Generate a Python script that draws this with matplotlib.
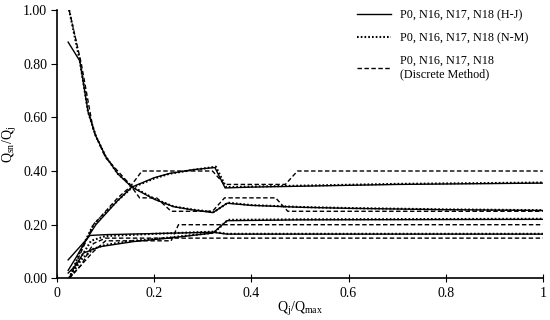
import numpy as np
import matplotlib.pyplot as plt

plt.rcParams['font.family'] = ['Liberation Serif', 'DejaVu Serif']
plt.rcParams['mathtext.fontset'] = 'custom'
plt.rcParams['mathtext.rm'] = 'Liberation Serif'

# ---- data (x = Qj/Qmax, y = Qsn/Qj) ----
# H-J (solid)
hj_p0_x = [0.023, 0.047, 0.064, 0.08, 0.1, 0.125, 0.154, 0.2, 0.24, 0.28, 0.321, 0.35, 0.4, 0.5, 0.6, 0.8, 1.0]
hj_p0_y = [0.88, 0.81, 0.62, 0.53, 0.455, 0.39, 0.34, 0.295, 0.267, 0.255, 0.245, 0.28, 0.272, 0.265, 0.261, 0.256, 0.253]
hj_n16_x = [0.023, 0.04, 0.064, 0.08, 0.1, 0.125, 0.154, 0.2, 0.232, 0.28, 0.325, 0.346, 0.4, 0.52, 0.7, 1.0]
hj_n16_y = [0.03, 0.08, 0.155, 0.2, 0.24, 0.29, 0.34, 0.375, 0.391, 0.405, 0.413, 0.337, 0.34, 0.344, 0.35, 0.355]
hj_n17_x = [0.023, 0.068, 0.1, 0.2, 0.32, 0.35, 1.0]
hj_n17_y = [0.069, 0.16, 0.163, 0.167, 0.172, 0.165, 0.165]
hj_n18_x = [0.023, 0.04, 0.054, 0.088, 0.157, 0.23, 0.321, 0.35, 0.5, 1.0]
hj_n18_y = [0.02, 0.05, 0.094, 0.118, 0.137, 0.15, 0.169, 0.215, 0.218, 0.22]

# N-M (dotted)
nm_p0_x = [0.025, 0.047, 0.064, 0.08, 0.1, 0.125, 0.154, 0.2, 0.24, 0.28, 0.323, 0.352, 0.4, 0.5, 0.6, 0.8, 1.0]
nm_p0_y = [1.0, 0.81, 0.62, 0.53, 0.455, 0.39, 0.343, 0.297, 0.268, 0.256, 0.247, 0.282, 0.273, 0.266, 0.262, 0.257, 0.254]
nm_n16_x = [0.025, 0.05, 0.075, 0.1, 0.125, 0.154, 0.2, 0.232, 0.28, 0.327, 0.348, 0.4, 0.52, 0.7, 1.0]
nm_n16_y = [0.0, 0.11, 0.2, 0.245, 0.29, 0.338, 0.372, 0.39, 0.404, 0.416, 0.34, 0.342, 0.346, 0.352, 0.357]
nm_n17_x = [0.025, 0.05, 0.07, 0.1, 0.2, 0.32, 0.35, 1.0]
nm_n17_y = [0.0, 0.08, 0.14, 0.158, 0.166, 0.174, 0.166, 0.166]
nm_n18_x = [0.025, 0.05, 0.075, 0.1, 0.157, 0.23, 0.323, 0.352, 0.5, 1.0]
nm_n18_y = [0.0, 0.07, 0.11, 0.125, 0.14, 0.152, 0.17, 0.218, 0.22, 0.222]

# Discrete method (dashed)
dm_p0_x = [0.025, 0.05, 0.075, 0.1, 0.125, 0.15, 0.17, 0.205, 0.235, 0.32, 0.345, 0.45, 0.475, 1.0]
dm_p0_y = [1.0, 0.80, 0.55, 0.45, 0.40, 0.35, 0.30, 0.30, 0.25, 0.25, 0.30, 0.30, 0.25, 0.25]
dm_n16_x = [0.025, 0.05, 0.075, 0.1, 0.125, 0.15, 0.175, 0.32, 0.345, 0.47, 0.495, 1.0]
dm_n16_y = [0.0, 0.10, 0.20, 0.25, 0.30, 0.34, 0.40, 0.40, 0.35, 0.35, 0.40, 0.40]
dm_n17_x = [0.025, 0.05, 0.075, 0.1, 1.0]
dm_n17_y = [0.0, 0.05, 0.13, 0.15, 0.15]
dm_n18_x = [0.025, 0.05, 0.075, 0.1, 0.235, 0.25, 0.33, 0.345, 1.0]
dm_n18_y = [0.0, 0.05, 0.10, 0.14, 0.14, 0.20, 0.20, 0.20, 0.20]

labels = ['P0, N16, N17, N18 (H-J)', 'P0, N16, N17, N18 (N-M)', 'P0, N16, N17, N18\n(Discrete Method)']
x_ticks = [0, 0.2, 0.4, 0.6, 0.8, 1]
x_ticklabels = ['0', '0.2', '0.4', '0.6', '0.8', '1']
y_ticks = [0, 0.2, 0.4, 0.6, 0.8, 1.0]
y_ticklabels = ['0.00', '0.20', '0.40', '0.60', '0.80', '1.00']

# ---- figure ----
fig = plt.figure(figsize=(5.5, 3.2), dpi=100)
ax = fig.add_axes([0.1036, 0.13, 0.8834, 0.839])

hj = [(hj_p0_x, hj_p0_y), (hj_n16_x, hj_n16_y), (hj_n17_x, hj_n17_y), (hj_n18_x, hj_n18_y)]
nm = [(nm_p0_x, nm_p0_y), (nm_n16_x, nm_n16_y), (nm_n17_x, nm_n17_y), (nm_n18_x, nm_n18_y)]
dm = [(dm_p0_x, dm_p0_y), (dm_n16_x, dm_n16_y), (dm_n17_x, dm_n17_y), (dm_n18_x, dm_n18_y)]

for i, (x, y) in enumerate(hj):
    ax.plot(x, y, color='black', lw=1.0, ls='-', label=labels[0] if i == 0 else None)
for i, (x, y) in enumerate(nm):
    ax.plot(x, y, color='black', lw=1.5, ls=(0, (0.8, 1.0)), label=labels[1] if i == 0 else None)
for i, (x, y) in enumerate(dm):
    ax.plot(x, y, color='black', lw=1.0, ls=(0, (3.2, 1.8)), label=labels[2] if i == 0 else None)

ax.set_xlim(0, 1)
ax.set_ylim(0, 1)
ax.set_xticks(x_ticks)
ax.set_xticklabels(x_ticklabels)
ax.set_yticks(y_ticks)
ax.set_yticklabels(y_ticklabels)
ax.tick_params(axis='x', direction='inout', length=6, labelsize=10, pad=3)
ax.tick_params(axis='y', direction='out', length=4, labelsize=10, pad=3)
for s in ['top', 'right']:
    ax.spines[s].set_visible(False)
for s in ['left', 'bottom']:
    ax.spines[s].set_linewidth(1.2)

ax.set_xlabel(r'Q$_{\mathrm{j}}$/Q$_{\mathrm{max}}$', fontsize=10, labelpad=0)
ax.set_ylabel(r'Q$_{\mathrm{sn}}$/Q$_{\mathrm{j}}$', fontsize=10, labelpad=3)

leg = ax.legend(loc='upper left', bbox_to_anchor=(357 / 550, 0.972), bbox_transform=fig.transFigure,
                frameon=False, fontsize=8.7, handlelength=2.8, handletextpad=0.8, labelspacing=0.9,
                borderpad=0, borderaxespad=0)

fig.savefig('out.png', dpi=100)
